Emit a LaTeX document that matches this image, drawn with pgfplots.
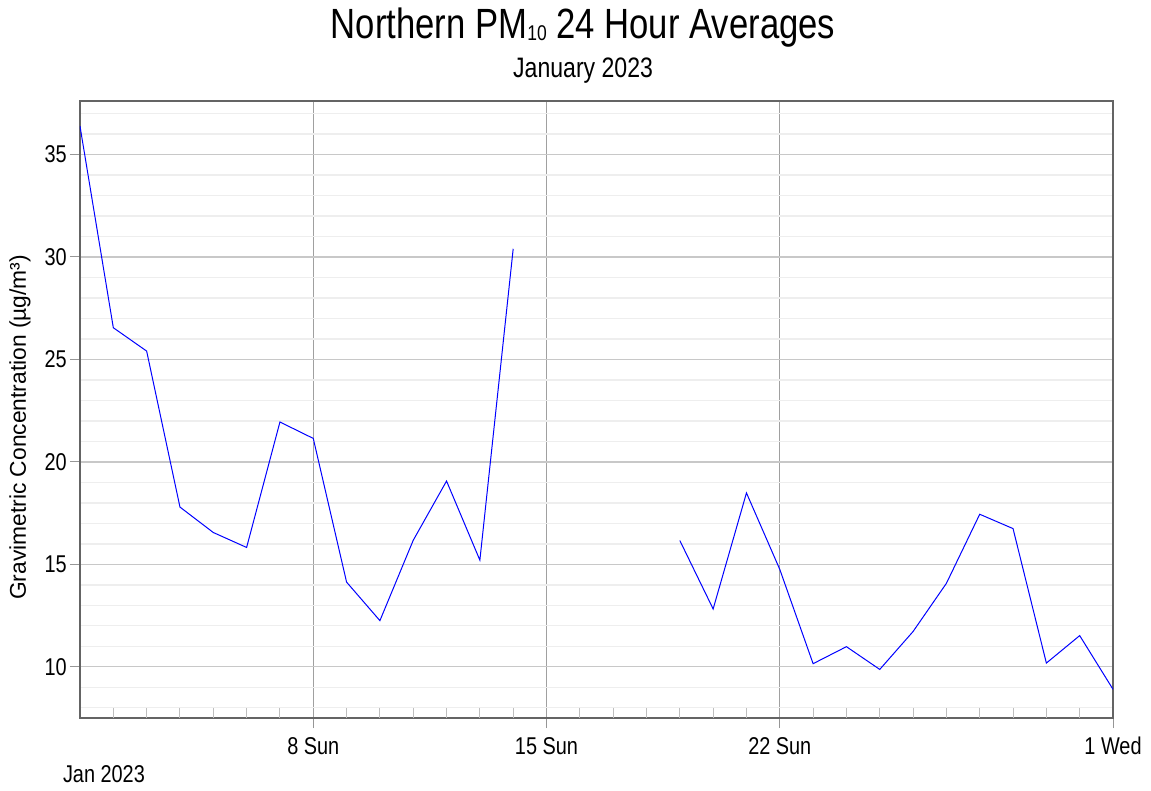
\documentclass[border=0pt]{standalone}
\usepackage{pgfplots}
\pgfplotsset{compat=1.18}
\usepackage{fontspec}
\setmainfont{Liberation Sans}
\newfontfamily\narrow[FakeStretch=0.82]{Liberation Sans}
\definecolor{majgrid}{RGB}{200,200,200}
\definecolor{mingrid}{RGB}{238,238,238}
\definecolor{vgrid}{RGB}{160,160,160}
\definecolor{axisc}{RGB}{100,100,100}
\definecolor{tickc}{RGB}{150,150,150}
\definecolor{mintick}{RGB}{190,190,190}
\pgfplotstableread{
day val
1 36.37
2 26.54
3 25.40
4 17.79
5 16.55
6 15.82
7 21.94
8 21.14
9 14.13
10 12.25
11 16.17
12 19.06
13 15.20
14 30.39
15 nan
16 nan
17 nan
18 nan
19 16.16
20 12.82
21 18.48
22 14.75
23 10.15
24 10.98
25 9.87
26 11.72
27 14.07
28 17.44
29 16.74
30 10.18
31 11.52
32 8.90
}\pmdata
\begin{document}
\begin{tikzpicture}
\begin{axis}[
  scale only axis,
  width=774.75pt, height=462.75pt,
  xmin=1, xmax=32, ymin=7.5, ymax=37.6,
  xtick={8,15,22,32},
  xticklabels={8 Sun,15 Sun,22 Sun,1 Wed},
  extra x ticks={2,3,4,5,6,7,9,10,11,12,13,14,16,17,18,19,20,21,23,24,25,26,27,28,29,30,31},
  extra x tick labels={},
  extra x tick style={grid=none, tick align=inside, major tick length=7.5pt,
    major tick style={mintick, line width=0.75pt}},
  ytick={10,15,20,25,30,35},
  yticklabels={10,15,20,25,30,35},
  minor ytick={8,9,11,12,13,14,16,17,18,19,21,22,23,24,26,27,28,29,31,32,33,34,36,37},
  minor tick length=0pt,
  tick pos=left,
  tick align=outside,
  major tick length=7.5pt,
  major tick style={tickc, line width=0.75pt},
  ymajorgrids, yminorgrids, xmajorgrids,
  major y grid style={majgrid, line width=1.1pt},
  minor y grid style={mingrid, line width=1.1pt},
  major x grid style={vgrid, line width=0.75pt},
  axis line style={axisc, line width=0.9pt},
  /pgf/number format/assume math mode=true,
  ticklabel style={font=\narrow\fontsize{18.2}{20}\selectfont, text=black},
  xticklabel style={anchor=base, yshift=-19.5pt},
  yticklabel style={inner xsep=0pt, xshift=-2.3pt},
  ylabel={Gravimetric Concentration (µg/m³)},
  every axis y label/.style={at={(axis description cs:-0.0581,0.471)}, rotate=90, anchor=center,
    font=\fontsize{17.1}{19}\selectfont, text=black},
  title={Northern PM{\fontsize{16}{17}\selectfont\raisebox{-0.08em}{10}} 24 Hour Averages},
  title style={at={(axis description cs:0.487,1.0876)}, anchor=base,
    font=\narrow\fontsize{31.7}{34}\selectfont, inner sep=0pt},
  unbounded coords=jump,
  clip mode=individual,
]
\addplot[draw={rgb,255:red,0;green,0;blue,255}, line width=0.75pt] table[x=day, y=val] {\pmdata};
\node[anchor=base, font=\narrow\fontsize{21.1}{23}\selectfont, inner sep=0pt]
  at (axis description cs:0.487,1.0389) {January 2023};
\node[anchor=base, font=\narrow\fontsize{18.2}{20}\selectfont, inner sep=0pt]
  at (axis description cs:0.0232,-0.1053) {Jan 2023};
\end{axis}
\pgfresetboundingbox
\path (-60pt,-54pt) rectangle (803.25pt,538.5pt);
\end{tikzpicture}
\end{document}
